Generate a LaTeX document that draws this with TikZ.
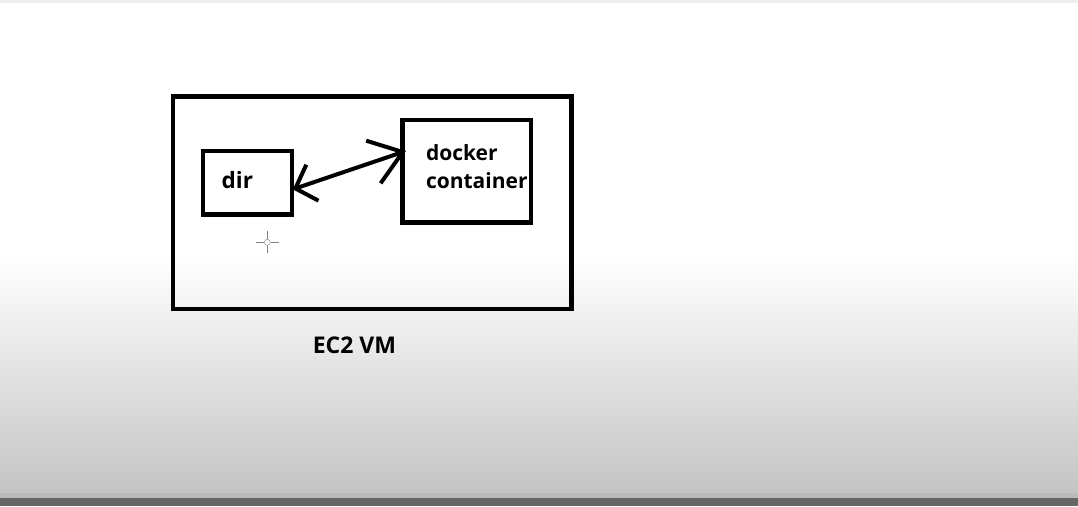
\documentclass[tikz,border=0pt]{standalone}
\usepackage{fontspec}
\setmainfont{Open Sans}
\usetikzlibrary{positioning,arrows.meta}
\definecolor{shadegray}{HTML}{C4C4C4}
\definecolor{edgegray}{HTML}{BBBBBB}
\definecolor{bargray}{HTML}{666666}
\definecolor{topgray}{HTML}{EEEEEE}
\tikzset{
	box/.style={draw, line width=4.5pt, inner sep=0pt, align=left,
		font=\bfseries\fontsize{21}{27.6}\selectfont},
}

\begin{document}
\begin{tikzpicture}[x=1pt, y=1pt] %
		% Background
		\fill[white] (0,0) rectangle (1078,506) ;
		\shade[top color=white, bottom color=shadegray] (0,13) rectangle (1078,249) ;
		\fill[edgegray] (0,8) rectangle (1078,13) ;
		\fill[bargray] (0,0) rectangle (1078,8) ;
		\fill[topgray] (0,503) rectangle (1078,506) ;
		% Boxes
		\node[box, minimum width=398.5pt, minimum height=212.3pt] (VM) at (372.25,303.15) {} ;
		\node[box, minimum width=89.2pt, minimum height=63.3pt, text width=51.4pt, text height=16pt, text depth=5.5pt, font=\bfseries\fontsize{22.5}{27}\selectfont] (Dir) at (247.4,323.15) {dir} ; %
		\node[box, minimum width=128.7pt, minimum height=102.5pt, text width=81.7pt, text height=16pt, text depth=37.1pt] (Docker) at (466.85,334.75) {docker\\container} ; %
		% Label
		\node[below=24.5pt of VM, xshift=-17.75pt, inner sep=0pt, text height=17.6pt, text depth=0pt, font=\bfseries\fontsize{23}{27}\selectfont] (VMLabel) {EC2 VM} ;
		% Link
		\draw[line width=4pt, {Straight Barb[length=18pt, width=38pt]}-{Straight Barb[length=31pt, width=45pt]}] ([xshift=-1.5pt, yshift=-6.5pt]Dir.east) -- ([xshift=5.75pt, yshift=20.3pt]Docker.west) ;
		% Cursor
		\node[circle, draw=gray, thin, inner sep=0pt, minimum size=6pt] (Cursor) at (267.3,263.7) {} ;
		\draw[gray, thin] (Cursor.north) -- ++(0,8) (Cursor.south) -- ++(0,-8) (Cursor.east) -- ++(8,0) (Cursor.west) -- ++(-8,0) ;
	\end{tikzpicture}
\end{document}
